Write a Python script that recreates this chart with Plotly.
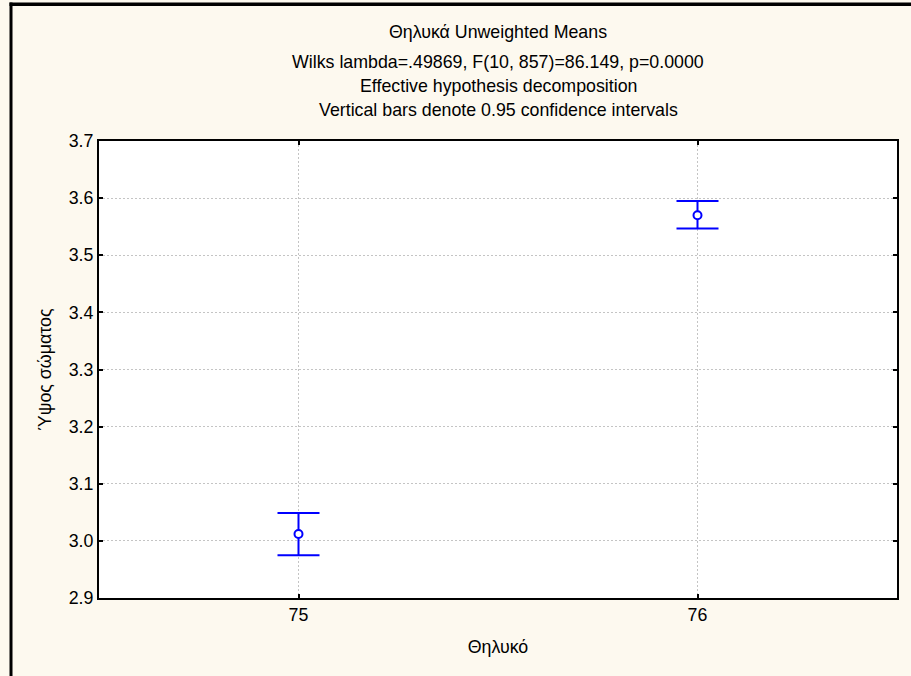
import plotly.graph_objects as go

categories = ["75", "76"]
means = [3.012, 3.570]
upper = [3.049, 3.595]
lower = [2.975, 3.547]

title_lines = [
    "Θηλυκά Unweighted Means",
    "Wilks lambda=.49869, F(10, 857)=86.149, p=0.0000",
    "Effective hypothesis decomposition",
    "Vertical bars denote 0.95 confidence intervals",
]
y_ticks = [2.9, 3.0, 3.1, 3.2, 3.3, 3.4, 3.5, 3.6, 3.7]

err_plus = [u - m for u, m in zip(upper, means)]
err_minus = [m - l for m, l in zip(means, lower)]

BLUE = "#0000FF"
FONT = "Liberation Sans, Arial, sans-serif"
FS = 17.8

fig = go.Figure()
fig.add_trace(go.Scatter(
    x=categories, y=means, mode="markers",
    marker=dict(symbol="circle", size=8, color="white",
                line=dict(color=BLUE, width=2)),
    error_y=dict(type="data", symmetric=False, array=err_plus,
                 arrayminus=err_minus, color=BLUE, thickness=2, width=21),
    showlegend=False,
))

W, H = 911, 676
L, R, T, B = 99, 14, 141, 78
ph = H - T - B
pw = W - L - R

def py(pix):
    return 1 + (T - pix) / ph

def px(pix):
    return (pix - L) / pw

# outer frame bands (top and left)
fig.add_shape(type="rect", xref="paper", yref="paper",
              x0=px(9.5), x1=px(915), y0=py(2.5), y1=py(6),
              fillcolor="black", line=dict(width=0), layer="above")
fig.add_shape(type="rect", xref="paper", yref="paper",
              x0=px(9.5), x1=px(12.5), y0=py(2.5), y1=py(680),
              fillcolor="black", line=dict(width=0), layer="above")

title_y = [32, 62, 86, 110]
for txt, yp in zip(title_lines, title_y):
    fig.add_annotation(text=txt, xref="paper", yref="paper",
                       x=0.5, y=py(yp), showarrow=False,
                       xanchor="center", yanchor="middle",
                       font=dict(size=FS, color="black", family=FONT))

axis_common = dict(
    showline=True, linecolor="black", linewidth=2, mirror="allticks",
    ticks="inside", ticklen=4, tickwidth=2, tickcolor="black",
    showgrid=True, gridcolor="#c4c4c4", griddash="2px,2px", gridwidth=1,
    zeroline=False,
    tickfont=dict(size=FS, color="black", family=FONT),
)

fig.update_xaxes(type="category", range=[-0.5, 1.5],
                 title=dict(text="Θηλυκό", standoff=16,
                            font=dict(size=FS, color="black", family=FONT)),
                 **axis_common)
fig.update_yaxes(range=[2.9, 3.7], tickvals=y_ticks,
                 ticktext=[f"{v:.1f}" for v in y_ticks],
                 title=dict(text="Ύψος σώματος", standoff=12,
                            font=dict(size=FS, color="black", family=FONT)),
                 **axis_common)

fig.update_layout(
    width=W, height=H,
    margin=dict(l=L, r=R, t=T, b=B, autoexpand=False),
    paper_bgcolor="#FDF9EF", plot_bgcolor="white",
    font=dict(family=FONT, size=FS, color="black"),
)

fig.write_html("out.html",
               config={"displayModeBar": False},
               post_script="document.body.style.margin='0';document.body.style.overflow='hidden';")
